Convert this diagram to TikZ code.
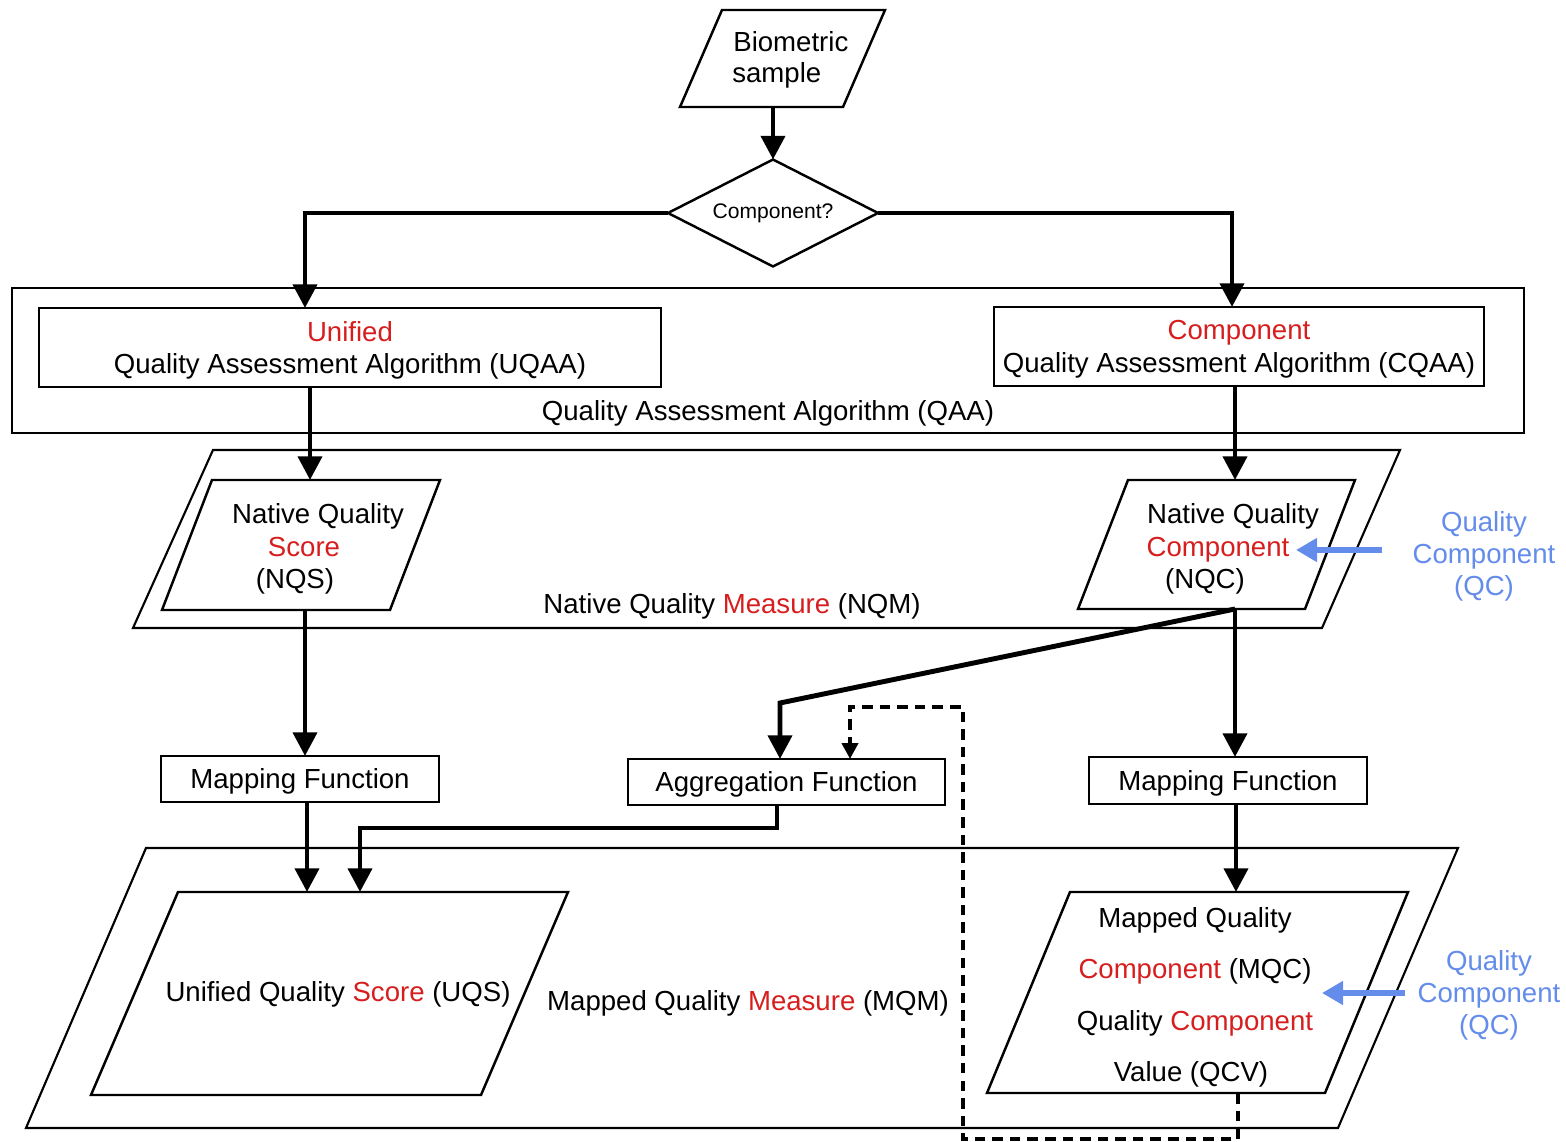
\documentclass[tikz,border=0pt]{standalone}
\usepackage{fontspec}
\setmainfont{Liberation Sans}
\usetikzlibrary{arrows.meta,shapes.geometric}
\definecolor{hl}{RGB}{215,30,30}
\definecolor{qcblue}{RGB}{100,140,235}
\newcommand\mainsize{\fontsize{15.7}{18.7}\selectfont}

\tikzset{
  shapeline/.style={line width=1.4pt, line join=miter},
  outerline/.style={line width=1.2pt, line join=miter},
  box/.style={shapeline, draw, rectangle, inner sep=0pt, outer sep=0pt, align=center, text depth=0pt},
  txt/.style={anchor=base, inner sep=0pt},
  flow/.style={line width=2.8pt, -{Triangle[length=13.5pt,width=13.5pt]}},
  feedback/.style={line width=2.3pt, dash pattern=on 6pt off 4pt, -{Triangle[length=9pt,width=9pt]}},
  qcarrow/.style={qcblue, line width=3.4pt, -{Triangle[length=12pt,width=13pt]}},
  qctext/.style={txt, text=qcblue},
}

\begin{document}
\begin{tikzpicture}[x=0.02cm, y=-0.02cm, font=\mainsize]
\useasboundingbox (0,0) rectangle (1566,1142);

% ---------- input and decision ----------
\draw[shapeline] (722,10) -- (885,10) -- (843,107) -- (680,107) -- cycle;
\node[txt, anchor=base west] (bio1) at (733,52) {Biometric};
\node[txt, anchor=base west] (bio2) at (732,83) {sample};
\coordinate (bioOut) at (773,107);

\node[diamond, draw, shapeline, aspect=1.96, minimum width=4.2cm, minimum height=2.14cm,
      inner sep=0pt, outer sep=0pt, font=\fontsize{12}{14}\selectfont] (dia) at (773,213) {Component?};
\draw[flow] (bioOut) -- (dia.north);

% ---------- quality assessment algorithms ----------
\node[box, outerline, minimum width=30.24cm, minimum height=2.9cm] (qaa) at (768,360.5) {};
\node[box, minimum width=12.44cm, minimum height=1.58cm] (uqaa) at (350,347.5)
  {\textcolor{hl}{Unified}\\Quality Assessment Algorithm (UQAA)};
\node[box, minimum width=9.8cm, minimum height=1.58cm] (cqaa) at (1239,346.5)
  {\textcolor{hl}{Component}\\Quality Assessment Algorithm (CQAA)};
\node[txt] (qaaLabel) at (768,420) {Quality Assessment Algorithm (QAA)};

\coordinate (uqaaIn) at (305,308);
\coordinate (cqaaIn) at (1232,307);
\draw[flow] (dia.west) -| (uqaaIn);
\draw[flow] (dia.east) -| (cqaaIn);

% ---------- native quality measure ----------
\draw[outerline] (213,450) -- (1400,450) -- (1322,628) -- (133,628) -- cycle;
\node[txt] (nqmLabel) at (732,613) {Native Quality \textcolor{hl}{Measure} (NQM)};

\draw[shapeline] (212,480) -- (440,480) -- (390,610) -- (162,610) -- cycle;
\node[txt] (nqs1) at (318,523) {Native Quality};
\node[txt] (nqs2) at (304,556) {\textcolor{hl}{Score}};
\node[txt] (nqs3) at (295,588) {(NQS)};

\draw[shapeline] (1128,480) -- (1355,480) -- (1305,609) -- (1078,609) -- cycle;
\node[txt] (nqc1) at (1233,523) {Native Quality};
\node[txt] (nqc2) at (1218,556) {\textcolor{hl}{Component}};
\node[txt] (nqc3) at (1205,588) {(NQC)};

\node[qctext] (qcA1) at (1484,531) {Quality};
\node[qctext] (qcA2) at (1484,563) {Component};
\node[qctext] (qcA3) at (1484,595) {(QC)};
\coordinate (qcAOut) at (1382,550);
\coordinate (nqcSide) at (1296,550);
\draw[qcarrow] (qcAOut) -- (nqcSide);

\coordinate (uqaaOut) at (310,387);
\coordinate (nqsIn) at (310,480);
\coordinate (cqaaOut) at (1235,386);
\coordinate (nqcIn) at (1235,480);
\draw[flow] (uqaaOut) -- (nqsIn);
\draw[flow] (cqaaOut) -- (nqcIn);

% ---------- mapping and aggregation ----------
\node[box, minimum width=5.56cm, minimum height=0.92cm] (map1) at (300,779) {Mapping Function};
\node[box, minimum width=6.34cm, minimum height=0.92cm] (agg) at (786.5,782) {Aggregation Function};
\node[box, minimum width=5.56cm, minimum height=0.94cm] (map2) at (1228,780.5) {Mapping Function};

\coordinate (nqsOut) at (305,610);
\coordinate (map1In) at (305,756);
\coordinate (nqcOut) at (1235,609);
\coordinate (map2In) at (1235,757);
\coordinate (aggBend) at (780,703);
\coordinate (aggIn) at (780,759);
\draw[flow] (nqsOut) -- (map1In);
\draw[flow] (nqcOut) -- (map2In);
\draw[flow] (nqcOut) -- (aggBend) -- (aggIn);

% ---------- mapped quality measure ----------
\draw[outerline] (146,848) -- (1458,848) -- (1338,1128) -- (26,1128) -- cycle;
\node[txt] (mqmLabel) at (748,1010) {Mapped Quality \textcolor{hl}{Measure} (MQM)};

\draw[shapeline] (178,892) -- (568,892) -- (481,1095) -- (91,1095) -- cycle;
\node[txt] (uqs) at (338,1001) {Unified Quality \textcolor{hl}{Score} (UQS)};

\draw[shapeline] (1070,892) -- (1408,892) -- (1325,1093) -- (987,1093) -- cycle;
\node[txt] (mqc1) at (1195,927) {Mapped Quality};
\node[txt] (mqc2) at (1195,978) {\textcolor{hl}{Component} (MQC)};
\node[txt] (mqc3) at (1195,1030) {Quality \textcolor{hl}{Component}};
\node[txt] (mqc4) at (1191,1081) {Value (QCV)};

\node[qctext] (qcB1) at (1489,970) {Quality};
\node[qctext] (qcB2) at (1489,1002) {Component};
\node[qctext] (qcB3) at (1489,1034) {(QC)};
\coordinate (qcBOut) at (1405,993);
\coordinate (mqcSide) at (1322,993);
\draw[qcarrow] (qcBOut) -- (mqcSide);

\coordinate (map1Out) at (307,802);
\coordinate (uqsIn1) at (307,892);
\coordinate (aggOut) at (777,805);
\coordinate (aggElbow) at (777,828);
\coordinate (uqsIn2) at (360,892);
\coordinate (map2Out) at (1236,804);
\coordinate (mqcIn) at (1236,892);
\draw[flow] (map1Out) -- (uqsIn1);
\draw[flow] (aggOut) -- (aggElbow) -| (uqsIn2);
\draw[flow] (map2Out) -- (mqcIn);

% ---------- feedback of component values into aggregation ----------
\coordinate (mqcOut) at (1238,1093);
\coordinate (fbLow) at (1238,1139);
\coordinate (fbCorner) at (963,1139);
\coordinate (fbHigh) at (963,707);
\coordinate (fbTop) at (850,707);
\coordinate (aggIn2) at (850,759);
\draw[feedback] (mqcOut) -- (fbLow) -- (fbCorner) -- (fbHigh) -- (fbTop) -- (aggIn2);

\end{tikzpicture}
\end{document}
